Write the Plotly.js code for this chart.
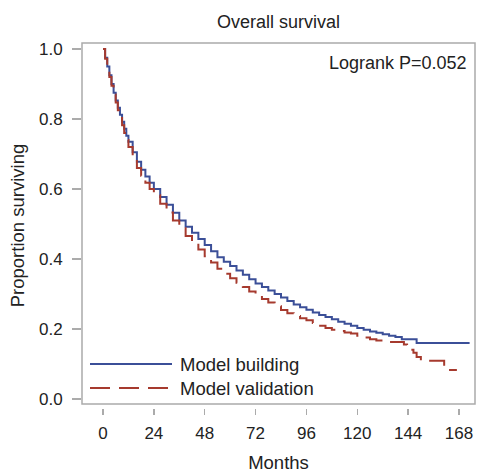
<!DOCTYPE html>
<html>
<head>
<meta charset="utf-8">
<script src="https://cdn.plot.ly/plotly-3.0.1.min.js"></script>
<style>html,body{margin:0;padding:0;background:#fff;}#chart{width:477px;height:473px;}</style>
</head>
<body>
<div id="chart"></div>
<script>
// Model building (Kaplan-Meier estimate)
const buildMonths = [0,1,2,3,4,5,6,7,8,9,10,11,12,14,16,18,20,22,24,27,30,33,36,39,42,45,48,51,54,57,60,63,66,69,72,75,78,81,84,87,90,93,96,99,102,105,108,111,114,117,120,123,126,129,132,135,138,141,146,148,173];
const buildSurv = [1.0,0.975,0.95,0.925,0.9,0.875,0.853,0.832,0.812,0.792,0.772,0.752,0.735,0.705,0.678,0.655,0.636,0.618,0.6,0.577,0.555,0.532,0.51,0.492,0.475,0.457,0.44,0.422,0.405,0.392,0.38,0.367,0.355,0.342,0.33,0.32,0.31,0.3,0.29,0.28,0.27,0.262,0.255,0.247,0.24,0.234,0.228,0.221,0.215,0.209,0.203,0.198,0.193,0.189,0.185,0.181,0.177,0.171,0.171,0.16,0.16];
// Model validation
const validMonths = [0,1,2,3,4,5,6,7,8,9,10,11,12,14,16,18,20,22,24,27,30,33,36,39,42,45,48,51,54,57,60,63,66,69,72,75,78,81,84,87,90,93,96,99,102,105,108,111,114,117,120,123,126,129,132,141,142,143.5,145,146.5,148,150,160.5,161,167];
const validSurv = [1.0,0.972,0.945,0.92,0.895,0.87,0.847,0.825,0.803,0.782,0.76,0.74,0.72,0.687,0.66,0.638,0.618,0.6,0.582,0.558,0.533,0.51,0.488,0.466,0.445,0.427,0.408,0.39,0.372,0.358,0.345,0.332,0.32,0.307,0.296,0.286,0.276,0.265,0.254,0.245,0.237,0.231,0.225,0.217,0.209,0.203,0.198,0.194,0.19,0.187,0.181,0.176,0.171,0.167,0.163,0.163,0.156,0.149,0.141,0.132,0.12,0.109,0.109,0.083,0.083];

const xTicks = [0,24,48,72,96,120,144,168];
const yTicks = [0,0.2,0.4,0.6,0.8,1.0];
const yTickText = ['0.0','0.2','0.4','0.6','0.8','1.0'];
const seriesNames = ['Model building','Model validation'];
const titleText = 'Overall survival';
const pText = 'Logrank P=0.052';

const blue = '#3b4f98';
const red = '#a63a2e';
const gray = '#ababab';
const FONT = 'Liberation Sans, Arial, sans-serif';

const traces = [
  {x: buildMonths, y: buildSurv, name: seriesNames[0], mode: 'lines', line: {shape: 'hv', color: blue, width: 2}, showlegend: false},
  {x: validMonths, y: validSurv, name: seriesNames[1], mode: 'lines', line: {shape: 'hv', color: red, width: 2, dash: '20px,9px'}, showlegend: false}
];

const W = 477, H = 473, L = 82, R = 2, T = 43, B = 65;
const pw = W - L - R, ph = H - T - B;
const px = v => (v - L) / pw;   // pixel -> paper x
const py = v => (H - B - v) / ph; // pixel -> paper y

const layout = {
  width: W, height: H,
  margin: {l: L, r: R, t: T, b: B, pad: 0},
  paper_bgcolor: '#fff', plot_bgcolor: '#fff',
  font: {family: FONT, size: 17, color: '#222'},
  title: {text: titleText, font: {family: FONT, size: 18, color: '#222'}, x: 0.5, xref: 'paper', xanchor: 'center', y: 1 - 22 / H, yref: 'container', yanchor: 'middle'},
  xaxis: {
    range: [-9.91, 175.55], tickvals: xTicks, ticks: 'outside', ticklen: 6, tickwidth: 1.5, tickcolor: gray,
    showline: false, showgrid: false, zeroline: false, ticklabelstandoff: 4,
    tickfont: {family: FONT, size: 17, color: '#222'},
    title: {text: 'Months', font: {family: FONT, size: 18.5, color: '#222'}, standoff: 17}
  },
  yaxis: {
    range: [-0.02571, 1.01714], tickvals: yTicks, ticktext: yTickText, ticks: 'outside', ticklen: 9, tickwidth: 1.5, tickcolor: gray,
    showline: false, showgrid: false, zeroline: false, ticklabelstandoff: 6,
    tickfont: {family: FONT, size: 17, color: '#222'},
    title: {text: 'Proportion surviving', font: {family: FONT, size: 18.5, color: '#222'}, standoff: 9}
  },
  shapes: [
    {type: 'rect', xref: 'paper', yref: 'paper', x0: 0, x1: 1, y0: 4 / ph, y1: 1, line: {color: gray, width: 1.5}, layer: 'below'},
    {type: 'line', xref: 'paper', yref: 'paper', x0: px(90), x1: px(172), y0: py(364), y1: py(364), line: {color: blue, width: 2}},
    {type: 'line', xref: 'paper', yref: 'paper', x0: px(90), x1: px(172), y0: py(388), y1: py(388), line: {color: red, width: 2, dash: '20px,9px'}}
  ],
  annotations: [
    {text: pText, xref: 'paper', yref: 'paper', x: px(469), y: py(63), xanchor: 'right', yanchor: 'middle', showarrow: false, font: {family: FONT, size: 18, color: '#222'}},
    {text: seriesNames[0], xref: 'paper', yref: 'paper', x: px(178), y: py(364), xanchor: 'left', yanchor: 'middle', showarrow: false, font: {family: FONT, size: 18.5, color: '#222'}},
    {text: seriesNames[1], xref: 'paper', yref: 'paper', x: px(178), y: py(388), xanchor: 'left', yanchor: 'middle', showarrow: false, font: {family: FONT, size: 18.5, color: '#222'}}
  ]
};

Plotly.newPlot('chart', traces, layout, {displayModeBar: false, staticPlot: true});
</script>
</body>
</html>
